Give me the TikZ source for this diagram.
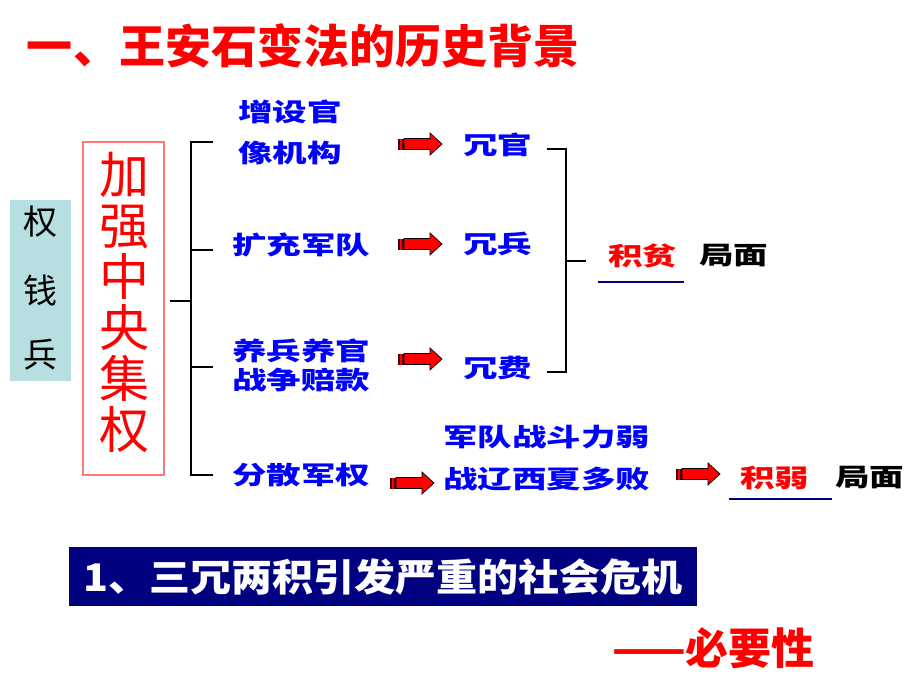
\documentclass[tikz,border=0pt]{standalone}
\usepackage{fontspec}
\newfontfamily\cjk{Noto Sans CJK SC}
\newfontfamily\cjkk{Noto Sans CJK SC Black}
\definecolor{navy}{RGB}{0,0,128}
\definecolor{boxblue}{RGB}{183,222,224}
\definecolor{lightred}{RGB}{255,120,120}
\definecolor{darkred}{RGB}{70,0,0}
\definecolor{txtblue}{RGB}{0,0,255}
\definecolor{pptred}{RGB}{255,0,0}
\newcommand\wide[1]{\scalebox{1.38}[1]{#1}}
\begin{document}
\begin{tikzpicture}[x=1pt,y=-1pt,
  every node/.style={inner sep=0pt, outer sep=0pt},
  bt/.style={anchor=west, text=txtblue, font=\cjkk\fontsize{25}{27}\selectfont},
  brk/.style={line width=2.6pt, line cap=butt, line join=miter},
  uline/.style={draw=navy, line width=2pt},
  blockarrow/.pic={
    \fill[darkred] (0,-5.5) rectangle (2,5.5);
    \fill[pptred] (2,-5.5) rectangle (3.5,5.5);
    \fill[darkred] (3.5,-5.5) rectangle (5.5,5.5);
    \filldraw[fill=pptred, draw=black, line width=0.7pt] (6,-5.5) -- (32,-5.5) -- (32,-11) -- (44,0) -- (32,11) -- (32,5.5) -- (6,5.5) -- cycle;
  }]
\useasboundingbox[fill=white] (0,0) rectangle (920,690);

% title
\node[anchor=west, text=pptred, font=\cjk\bfseries\fontsize{46}{50}\selectfont] (title) at (27,46) {一、王安石变法的历史背景};

% left blue box
\node[fill=boxblue, minimum width=61pt, minimum height=181pt] (qqb) at (40.5,290.5) {};
\node[font=\cjk\fontsize{34}{36}\selectfont] (quan) at (40,222) {权};
\node[font=\cjk\fontsize{34}{36}\selectfont] (qian) at (40,290) {钱};
\node[font=\cjk\fontsize{34}{36}\selectfont] (bing) at (40,355) {兵};

% red box
\node[draw=lightred, line width=1.3pt, minimum width=81pt, minimum height=333pt] (redbox) at (123.5,308.5) {};
\node[align=center, text=pptred, font=\cjk\fontsize{50}{51}\selectfont] (jq) at (124,302.5) {加\\强\\中\\央\\集\\权};

% bracket 1
\draw[brk] (213,142) -- (191,142) -- (191,475) -- (213,475);
\draw[brk] (191,250) -- (213,250);
\draw[brk] (191,367) -- (213,367);
\draw[brk] (170,301) -- (191,301);

% blue texts
\node[bt] (zs1) at (238,112) {\wide{增设官}};
\node[bt] (zs2) at (238,153) {\wide{像机构}};
\node[bt] (kc) at (232,245) {\wide{扩充军队}};
\node[bt] (yb1) at (232,351) {\wide{养兵养官}};
\node[bt] (yb2) at (232,380) {\wide{战争赔款}};
\node[bt] (fs) at (232,475) {\wide{分散军权}};
\node[bt] (rg) at (463,145) {\wide{冗官}};
\node[bt] (rb) at (463,244) {\wide{冗兵}};
\node[bt] (rf) at (463,368) {\wide{冗费}};
\node[bt] (jd1) at (443,437) {\wide{军队战斗力弱}};
\node[bt] (jd2) at (443,479) {\wide{战辽西夏多败}};

% arrows
\pic at (398,144) {blockarrow};
\pic at (398,244) {blockarrow};
\pic at (398,359) {blockarrow};
\pic at (390,483) {blockarrow};
\pic at (676,474) {blockarrow};

% bracket 2
\draw[brk] (547,149) -- (566,149) -- (566,372) -- (547,372);
\draw[brk] (566,261) -- (586,261);

% results
\node[bt, text=pptred] (jp) at (608,256) {\wide{积贫}};
\node[bt, text=black] (jm1) at (699,256) {\wide{局面}};
\draw[uline] (598,282) -- (684,282);
\node[bt, text=pptred] (jr) at (740,478) {\wide{积弱}};
\node[bt, text=black] (jm2) at (835,478) {\wide{局面}};
\draw[uline] (729,499) -- (832,499);

% crisis box
\node[fill=navy, minimum width=628pt, minimum height=59pt, text=white, font=\cjk\bfseries\fontsize{38}{40}\selectfont] (crisis) at (383,576.5) {\scalebox{1.08}[1]{1、三冗两积引发严重的社会危机}};

% necessity
\node[anchor=west, text=pptred, font=\cjk\bfseries\fontsize{43}{45}\selectfont] (need) at (612,648) {——必要性};
\end{tikzpicture}
\end{document}
